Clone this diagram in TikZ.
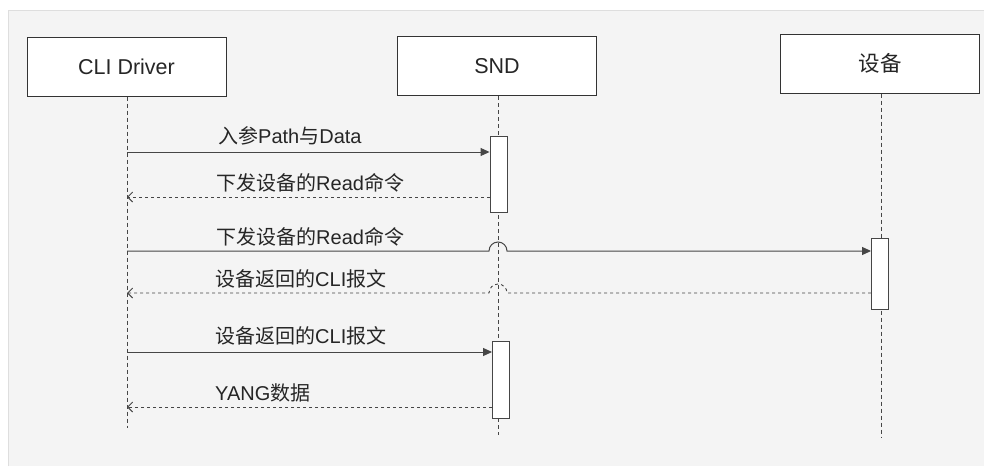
\documentclass[tikz,border=0pt]{standalone}
\usepackage{fontspec}
\setmainfont{Liberation Sans}
\newfontfamily\cjk{Noto Sans CJK SC}
\usetikzlibrary{arrows.meta}
\definecolor{panel}{HTML}{F4F4F4}
\definecolor{ln}{HTML}{464646}
\begin{document}
\begin{tikzpicture}[x=1pt,y=-1pt,
 actor/.style={draw=black!80, fill=white, line width=1pt, minimum width=199pt, minimum height=59pt, inner sep=0pt, font=\fontsize{21.5}{25}\selectfont, text=black!85},
 bar/.style={draw=ln, fill=white, line width=0.9pt, minimum width=17pt, inner sep=0pt},
 life/.style={draw=ln, line width=0.9pt, dash pattern=on 4pt off 3pt},
 call/.style={draw=ln, line width=1pt, -{Triangle[length=9pt,width=8pt]}},
 ret/.style={draw=ln, line width=0.9pt, dash pattern=on 3pt off 3pt, -{Straight Barb[length=5pt,width=10pt]}},
 lbl/.style={anchor=west, inner sep=0pt, font=\fontsize{20}{24}\selectfont, text=black!85}
]
\useasboundingbox (0,0) rectangle (984,466);
\fill[white] (0,0) rectangle (984,466);
\fill[panel] (8,10) rectangle (984,466);
\draw[black!13, line width=0.8pt] (8,466) -- (8,10) -- (984,10);

% actors
\node[actor] (cli) at (126.5,66.5) {CLI Driver};
\node[actor] (snd) at (497,66) {SND};
\node[actor] (dev) at (880,63.5) {{\cjk 设备}};

% lifeline ends
\coordinate (cliE) at (127,428);
\coordinate (sndE) at (498,435);
\coordinate (devE) at (881,437);
\draw[life] (cli.south -| cliE) -- (cliE);
\draw[life] (snd.south -| sndE) -- (sndE);
\draw[life] (dev.south -| devE) -- (devE);

% activation bars
\node[bar, minimum height=76pt] (b1) at (498.5,174) {};
\node[bar, minimum height=71pt] (b2) at (880,273.5) {};
\node[bar, minimum height=77pt] (b3) at (501,379.5) {};

% message endpoints on CLI lifeline
\coordinate (m1) at (127,152);
\coordinate (m2) at (127,197);
\coordinate (m3) at (127,251);
\coordinate (m4) at (127,293);
\coordinate (m5) at (127,352);
\coordinate (m6) at (127,407);

% messages
\draw[call] (m1) -- (b1.west |- m1);
\draw[ret] (b1.west |- m2) -- (m2);
\draw[call] (m3) -- (489,251) arc[start angle=180, end angle=360, radius=9] -- (b2.west |- m3);
\draw[ret] (b2.west |- m4) -- (507,293) arc[start angle=0, end angle=-180, radius=9] -- (m4);
\draw[call] (m5) -- (b3.west |- m5);
\draw[ret] (b3.west |- m6) -- (m6);

% labels
\node[lbl] (l1) at (218,136) {{\cjk 入参}Path{\cjk 与}Data};
\node[lbl] (l2) at (216,183) {{\cjk 下发设备的}Read{\cjk 命令}};
\node[lbl] (l3) at (216,237) {{\cjk 下发设备的}Read{\cjk 命令}};
\node[lbl] (l4) at (215,278.5) {{\cjk 设备返回的}CLI{\cjk 报文}};
\node[lbl] (l5) at (215,336) {{\cjk 设备返回的}CLI{\cjk 报文}};
\node[lbl] (l6) at (215,393) {YANG{\cjk 数据}};
\end{tikzpicture}
\end{document}
